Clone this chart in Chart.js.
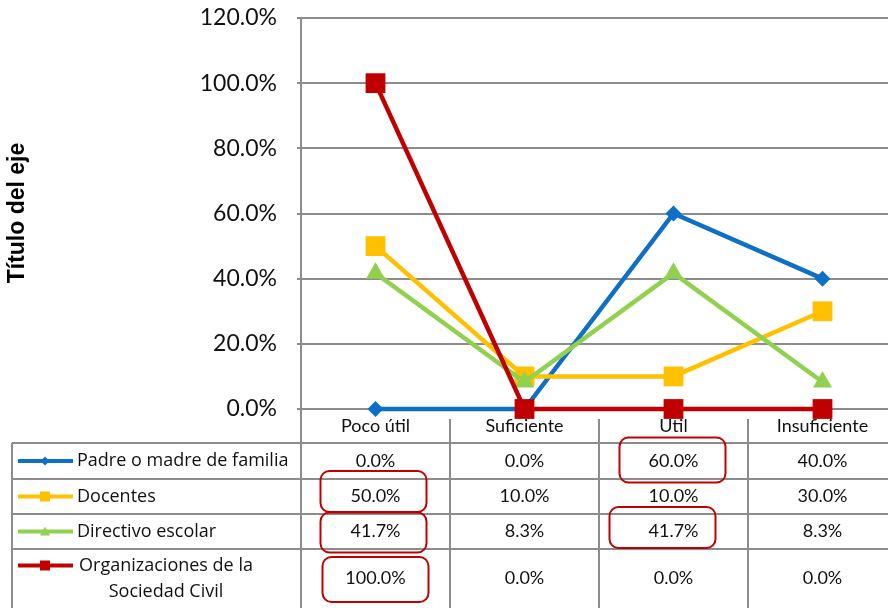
<!DOCTYPE html>
<html>
<head>
<meta charset="utf-8">
<script src="https://cdn.jsdelivr.net/npm/chart.js@4/dist/chart.umd.min.js"></script>
<style>
html, body { margin: 0; padding: 0; background: #fff; overflow: hidden; width: 888px; height: 608px; }
#marco { width: 888px; height: 608px; overflow: hidden; position: relative; }
#wrap { width: 900px; height: 608px; position: absolute; left: 0; top: 0; }
</style>
</head>
<body>
<div id="marco"><div id="wrap"><canvas id="grafico" width="900" height="608"></canvas></div></div>
<script>
var categorias = ['Poco útil', 'Suficiente', 'Util', 'Insuficiente'];
var padres = [0, 0, 0.6, 0.4];
var docentes = [0.5, 0.1, 0.1, 0.3];
var directivos = [0.417, 0.083, 0.417, 0.083];
var organizaciones = [1, 0, 0, 0];
var nombres = [['Padre o madre de familia'], ['Docentes'], ['Directivo escolar'], ['Organizaciones de la', 'Sociedad Civil']];
var colores = ['#0E6FC6', '#FFC000', '#92D050', '#C00000'];
var marcadores = ['rectRot', 'rect', 'triangle', 'rect'];
var tituloEje = 'Título del eje';

// celdas marcadas con recuadro rojo: [fila, columna, dx, dy, alto]
var resaltados = [[1, 0, -2, -5, 41], [2, 0, -2, 1, 40], [3, 0, 0, 1, 45], [0, 2, -1, -1, 45], [2, 2, -11, -4, 41]];

var series = [padres, docentes, directivos, organizaciones];
var fuente = 'Lato, "Open Sans", sans-serif';
var gris = '#8c8c8c';

function pct(v) {
    return (v * 100).toFixed(1) + '%';
}

function marcador(ctx, tipo, x, y, s, color) {
    ctx.fillStyle = color;
    ctx.beginPath();
    if (tipo === 'rectRot') {
        ctx.moveTo(x - s, y); ctx.lineTo(x, y - s); ctx.lineTo(x + s, y); ctx.lineTo(x, y + s);
    } else if (tipo === 'triangle') {
        ctx.moveTo(x, y - s); ctx.lineTo(x + s, y + s * 0.8); ctx.lineTo(x - s, y + s * 0.8);
    } else {
        ctx.rect(x - s, y - s, 2 * s, 2 * s);
    }
    ctx.closePath();
    ctx.fill();
}

function roundRect(ctx, x, y, w, h, r) {
    ctx.beginPath();
    ctx.moveTo(x + r, y);
    ctx.arcTo(x + w, y, x + w, y + h, r);
    ctx.arcTo(x + w, y + h, x, y + h, r);
    ctx.arcTo(x, y + h, x, y, r);
    ctx.arcTo(x, y, x + w, y, r);
    ctx.closePath();
    ctx.stroke();
}

// tabla de datos debajo del gráfico (como en Excel)
var tablaPlugin = {
    id: 'tabla',
    afterDraw: function (chart) {
        var ctx = chart.ctx;
        var xs = chart.scales.x;
        var area = chart.chartArea;
        var medio = (xs.getPixelForValue(1) - xs.getPixelForValue(0)) / 2;
        var filas = [443, 479, 514, 549, 620];
        var izq = 12;
        ctx.save();

        // líneas de la tabla
        ctx.strokeStyle = gris;
        ctx.lineWidth = 2;
        ctx.beginPath();
        for (var i = 0; i < 4; i++) {
            ctx.moveTo(izq, filas[i]);
            ctx.lineTo(900, filas[i]);
        }
        ctx.moveTo(izq, filas[0]);
        ctx.lineTo(izq, 608);
        for (var c = 0; c <= categorias.length; c++) {
            var bx = xs.getPixelForValue(0) - medio + c * 2 * medio;
            ctx.moveTo(bx, area.bottom + (c === 0 ? 0 : 10));
            ctx.lineTo(bx, 608);
        }
        ctx.stroke();

        // filas: leyenda y valores
        ctx.textBaseline = 'middle';
        for (var f = 0; f < series.length; f++) {
            var cy = (filas[f] + Math.min(filas[f + 1], 608)) / 2;
            var ky = nombres[f].length === 1 ? cy : cy - 13;
            ctx.strokeStyle = colores[f];
            ctx.lineWidth = 4;
            ctx.beginPath();
            ctx.moveTo(18, ky);
            ctx.lineTo(73, ky);
            ctx.stroke();
            marcador(ctx, marcadores[f], 45, ky, f === 0 ? 4.5 : 5, colores[f]);

            ctx.fillStyle = '#111';
            ctx.font = '18px "Open Sans", sans-serif';
            if (nombres[f].length === 1) {
                ctx.textAlign = 'left';
                ctx.fillText(nombres[f][0], 77, cy);
            } else {
                ctx.textAlign = 'center';
                ctx.fillText(nombres[f][0], 166, cy - 13);
                ctx.fillText(nombres[f][1], 166, cy + 13);
            }
            ctx.font = '18px ' + fuente;
            ctx.textAlign = 'center';
            for (var k = 0; k < categorias.length; k++) {
                ctx.fillText(pct(series[f][k]), xs.getPixelForValue(k), cy);
            }
        }

        // recuadros rojos
        ctx.strokeStyle = '#C00000';
        ctx.lineWidth = 2;
        resaltados.forEach(function (r) {
            var cy2 = (filas[r[0]] + Math.min(filas[r[0] + 1], 608)) / 2;
            var cx2 = xs.getPixelForValue(r[1]);
            roundRect(ctx, cx2 + r[2] - 53, cy2 + r[3] - r[4] / 2, 106, r[4], 9);
        });

        // título del eje
        ctx.fillStyle = '#000';
        ctx.font = 'bold 23px "Liberation Sans", Arial, sans-serif';
        ctx.translate(18, 213);
        ctx.rotate(-Math.PI / 2);
        ctx.textAlign = 'center';
        ctx.textBaseline = 'middle';
        ctx.fillText(tituloEje, 0, 0);
        ctx.restore();
    }
};

var conjuntos = series.map(function (datos, i) {
    var radio = [8, 14, 11, 14][i];
    return {
        label: nombres[i].join(' '),
        data: datos,
        borderColor: colores[i],
        backgroundColor: colores[i],
        borderWidth: 4.5,
        pointStyle: marcadores[i],
        pointRadius: radio,
        pointBorderWidth: 0,
        tension: 0,
        clip: false,
        order: 3 - i
    };
});

var grafico = new Chart(document.getElementById('grafico'), {
    type: 'line',
    data: {
        labels: categorias,
        datasets: conjuntos
    },
    options: {
        responsive: false,
        animation: false,
        layout: { autoPadding: false, padding: { top: 18, right: 3, left: 0, bottom: 0 } },
        plugins: {
            legend: { display: false },
            tooltip: { enabled: false }
        },
        scales: {
            x: {
                offset: true,
                grid: { display: false, drawTicks: false },
                border: { display: true, color: gris, width: 2 },
                ticks: { color: '#111', font: { size: 18, family: fuente }, padding: 6, maxRotation: 0 },
                afterFit: function (s) {
                    s.height = 199;
                    s.paddingLeft = 0;
                    s.paddingRight = 0;
                }
            },
            y: {
                min: 0,
                max: 1.2,
                grid: { color: gris, lineWidth: 2, tickLength: 4 },
                border: { display: true, color: gris, width: 2 },
                ticks: {
                    stepSize: 0.2,
                    color: '#111',
                    padding: 20,
                    font: { size: 23, family: fuente },
                    callback: function (v) { return pct(v); }
                },
                afterFit: function (s) {
                    s.width = 301;
                    s.paddingTop = 0;
                    s.paddingBottom = 0;
                }
            }
        }
    },
    plugins: [tablaPlugin]
});
</script>
</body>
</html>
